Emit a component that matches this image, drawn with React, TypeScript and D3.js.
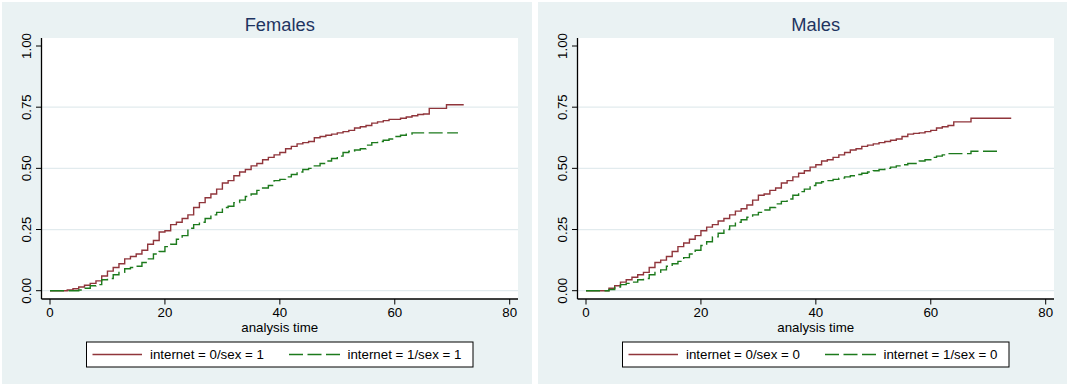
import React from "react";
import * as d3 from "d3";

// ---- data (failure estimates, one value per unit of analysis time, starting at t = 0) ----
const femalesNoInternet = [
  0, 0, 0, 0.003, 0.008, 0.015, 0.022, 0.03, 0.04, 0.06, 0.08, 0.095, 0.11, 0.13, 0.14, 0.15,
  0.165, 0.19, 0.205, 0.24, 0.245, 0.27, 0.28, 0.295, 0.31, 0.34, 0.36, 0.38, 0.395, 0.415, 0.44,
  0.45, 0.47, 0.485, 0.495, 0.51, 0.52, 0.535, 0.545, 0.555, 0.565, 0.58, 0.59, 0.6, 0.605, 0.61,
  0.625, 0.63, 0.635, 0.64, 0.645, 0.65, 0.655, 0.665, 0.67, 0.675, 0.685, 0.69, 0.695, 0.7, 0.7,
  0.705, 0.71, 0.715, 0.72, 0.722, 0.745, 0.745, 0.745, 0.76, 0.76, 0.76, 0.76,
];
const femalesInternet = [
  0, 0, 0, 0, 0, 0.003, 0.01, 0.02, 0.025, 0.045, 0.05, 0.065, 0.075, 0.09, 0.095, 0.1, 0.115,
  0.13, 0.15, 0.16, 0.18, 0.19, 0.21, 0.225, 0.255, 0.27, 0.28, 0.295, 0.31, 0.32, 0.34, 0.345,
  0.36, 0.37, 0.385, 0.395, 0.41, 0.42, 0.43, 0.45, 0.455, 0.465, 0.475, 0.485, 0.495, 0.5, 0.51,
  0.52, 0.53, 0.54, 0.55, 0.565, 0.57, 0.575, 0.58, 0.595, 0.605, 0.61, 0.615, 0.62, 0.63, 0.635,
  0.64, 0.645, 0.645, 0.645, 0.645, 0.645, 0.645, 0.645, 0.645, 0.645,
];
const malesNoInternet = [
  0, 0, 0, 0, 0.01, 0.02, 0.035, 0.045, 0.055, 0.065, 0.075, 0.095, 0.115, 0.125, 0.14, 0.16,
  0.18, 0.195, 0.21, 0.225, 0.245, 0.26, 0.27, 0.285, 0.295, 0.31, 0.325, 0.335, 0.35, 0.37, 0.39,
  0.395, 0.41, 0.42, 0.44, 0.45, 0.465, 0.48, 0.49, 0.505, 0.515, 0.53, 0.535, 0.545, 0.555, 0.565,
  0.575, 0.58, 0.59, 0.595, 0.6, 0.605, 0.61, 0.615, 0.62, 0.63, 0.64, 0.643, 0.645, 0.65, 0.655,
  0.665, 0.67, 0.675, 0.69, 0.69, 0.69, 0.705, 0.705, 0.705, 0.705, 0.705, 0.705, 0.705, 0.705,
];
const malesInternet = [
  0, 0, 0, 0, 0.005, 0.015, 0.025, 0.03, 0.035, 0.045, 0.05, 0.065, 0.075, 0.085, 0.1, 0.11, 0.12,
  0.135, 0.15, 0.165, 0.185, 0.2, 0.22, 0.235, 0.25, 0.265, 0.28, 0.29, 0.3, 0.31, 0.32, 0.33,
  0.34, 0.355, 0.365, 0.375, 0.39, 0.405, 0.415, 0.43, 0.44, 0.445, 0.45, 0.455, 0.46, 0.465, 0.47,
  0.475, 0.48, 0.485, 0.49, 0.495, 0.5, 0.505, 0.51, 0.515, 0.52, 0.52, 0.53, 0.535, 0.545, 0.55,
  0.555, 0.56, 0.56, 0.56, 0.56, 0.57, 0.57, 0.57, 0.57, 0.57, 0.57,
];

const panelTitles = ["Females", "Males"];
const legendLabels = [
  ["internet = 0/sex = 1", "internet = 1/sex = 1"],
  ["internet = 0/sex = 0", "internet = 1/sex = 0"],
];
const xTicks = [0, 20, 40, 60, 80];
const yTicks = [0, 0.25, 0.5, 0.75, 1];
const yTickLabels = ["0.00", "0.25", "0.50", "0.75", "1.00"];
const xTitle = "analysis time";

// ---- styling ----
const W = 1069;
const H = 385;
const FONT = "'Liberation Sans', Arial, Helvetica, sans-serif";
const BG = "#EAF2F3";
const GRID = "#E2EBEE";
const RED = "#90353B";
const GREEN = "#1C7A1C";
const TITLE_COLOR = "#1E3461";

const panels = [
  { x0: 2, w: 530 },
  { x0: 538, w: 529 },
];

type Pt = [number, number];

function toPoints(vals: number[]): Pt[] {
  return vals.map((v, i) => [i, v] as Pt);
}

function Panel({ idx, data }: { idx: number; data: number[][] }) {
  const { x0, w } = panels[idx];
  const plotL = x0 + 39.5;
  const plotR = x0 + 516;
  const plotT = 38;
  const plotB = 299;
  const x = d3.scaleLinear().domain([0, 80]).range([x0 + 48, x0 + 507.7]);
  const y = d3.scaleLinear().domain([0, 1]).range([290.7, 46]);
  const line = d3
    .line<Pt>()
    .x((d) => x(d[0]))
    .y((d) => y(d[1]))
    .curve(d3.curveStepAfter);
  const cx = (plotL + plotR) / 2;
  const legL = x0 + 84.5;
  const legR = x0 + 471;
  const legT = 342;
  const legB = 367;
  const legY = (legT + legB) / 2;
  const colors = [RED, GREEN];
  const dashes = [undefined, "14 4.5"];
  return (
    <g>
      <rect x={x0} y={2} width={w} height={382} fill={BG} />
      <rect x={plotL} y={plotT} width={plotR - plotL} height={plotB - plotT} fill="#fff" />
      {yTicks.slice(0, 4).map((t) => (
        <line key={t} x1={plotL} x2={plotR} y1={y(t)} y2={y(t)} stroke={GRID} strokeWidth={1.2} />
      ))}
      {data.map((vals, i) => (
        <path
          key={i}
          d={line(toPoints(vals)) || ""}
          fill="none"
          stroke={colors[i]}
          strokeWidth={1.4}
          strokeDasharray={dashes[i]}
        />
      ))}
      {/* axes */}
      <line x1={plotL} x2={plotL} y1={plotT} y2={plotB} stroke="#000" strokeWidth={1.3} />
      <line x1={plotL} x2={plotR} y1={plotB} y2={plotB} stroke="#000" strokeWidth={1.3} />
      {yTicks.map((t, i) => (
        <g key={t}>
          <line x1={plotL - 5.5} x2={plotL} y1={y(t)} y2={y(t)} stroke="#000" strokeWidth={1} />
          <text
            transform={`translate(${x0 + 29},${y(t)}) rotate(-90)`}
            textAnchor="middle"
            fontFamily={FONT}
            fontSize={13.3}
            fill="#000"
          >
            {yTickLabels[i]}
          </text>
        </g>
      ))}
      {xTicks.map((t) => (
        <g key={t}>
          <line x1={x(t)} x2={x(t)} y1={plotB} y2={plotB + 5.5} stroke="#000" strokeWidth={1} />
          <text x={x(t)} y={317} textAnchor="middle" fontFamily={FONT} fontSize={13.3} fill="#000">
            {t}
          </text>
        </g>
      ))}
      <text x={cx} y={331.5} textAnchor="middle" fontFamily={FONT} fontSize={13.3} fill="#000">
        {xTitle}
      </text>
      <text x={cx} y={30.5} textAnchor="middle" fontFamily={FONT} fontSize={18.3} fill={TITLE_COLOR}>
        {panelTitles[idx]}
      </text>
      {/* legend */}
      <rect x={legL} y={legT} width={legR - legL} height={legB - legT} fill="#fff" stroke="#000" strokeWidth={1} />
      <line x1={x0 + 90.5} x2={x0 + 140} y1={legY} y2={legY} stroke={RED} strokeWidth={1.4} />
      <text x={x0 + 148} y={legY + 4.7} fontFamily={FONT} fontSize={13.3} fill="#000">
        {legendLabels[idx][0]}
      </text>
      <line x1={x0 + 287} x2={x0 + 338} y1={legY} y2={legY} stroke={GREEN} strokeWidth={1.4} strokeDasharray="14 4.5" />
      <text x={x0 + 345.5} y={legY + 4.7} fontFamily={FONT} fontSize={13.3} fill="#000">
        {legendLabels[idx][1]}
      </text>
    </g>
  );
}

export default function App() {
  return (
    <svg
      width={W}
      height={H}
      viewBox={`0 0 ${W} ${H}`}
      style={{ position: "absolute", left: 0, top: 0, display: "block" }}
    >
      <rect x={0} y={0} width={W} height={H} fill="#fff" />
      <Panel idx={0} data={[femalesNoInternet, femalesInternet]} />
      <Panel idx={1} data={[malesNoInternet, malesInternet]} />
    </svg>
  );
}
